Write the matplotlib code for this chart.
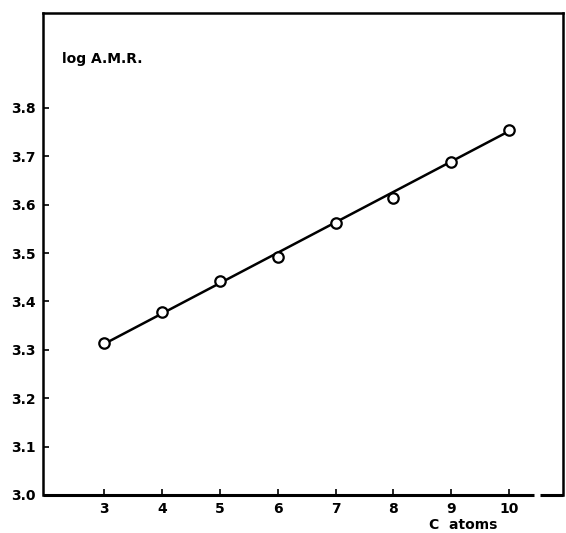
import numpy as np
import matplotlib
matplotlib.use("Agg")
import matplotlib.pyplot as plt

# measured points (C atoms vs log A.M.R.)
c_atoms = [3, 4, 5, 6, 7, 8, 9, 10]
log_amr = [3.314, 3.378, 3.442, 3.492, 3.562, 3.614, 3.688, 3.754]

# drawn straight line, end points
line_x = [3, 10]
line_y = [3.312, 3.752]

x_ticks = [3, 4, 5, 6, 7, 8, 9, 10]
y_ticks = [3.0, 3.1, 3.2, 3.3, 3.4, 3.5, 3.6, 3.7, 3.8]

plt.rcParams['font.family'] = ['DejaVu Sans']

fig = plt.figure(figsize=(5.66, 5.33), dpi=100)
ax = fig.add_axes([0.076, 0.0713, 0.9187, 0.9043])

ax.plot(line_x, line_y, color='black', linewidth=1.8, zorder=2)
ax.plot(c_atoms, log_amr, linestyle='none', marker='o', markersize=7.5,
        markerfacecolor='white', markeredgecolor='black', markeredgewidth=1.6, zorder=3)

ax.set_xlim(1.946, 10.93)
ax.set_ylim(3.0, 3.996)
ax.set_xticks(x_ticks)
ax.set_yticks(y_ticks)
ax.set_xticklabels([str(v) for v in x_ticks], fontweight='bold', fontsize=10)
ax.set_yticklabels(['%.1f' % v for v in y_ticks], fontweight='bold', fontsize=10)
ax.tick_params(direction='in', length=4, width=1.2, pad=5)

for side in ['left', 'top', 'right']:
    ax.spines[side].set_linewidth(1.8)
# bottom axis has a small break near the right end
ax.spines['bottom'].set_visible(False)
ax.plot([0, 0.944], [0, 0], transform=ax.transAxes, color='black',
        linewidth=2.2, clip_on=False, solid_capstyle='butt')
ax.plot([0.956, 1.0], [0, 0], transform=ax.transAxes, color='black',
        linewidth=2.2, clip_on=False, solid_capstyle='butt')

ax.text(0.037, 0.905, 'log A.M.R.', transform=ax.transAxes, fontsize=10,
        fontweight='bold', ha='left', va='center')
ax.text(0.808, -0.063, 'C  atoms', transform=ax.transAxes, fontsize=10,
        fontweight='bold', ha='center', va='center')

fig.savefig('out.png', dpi=100)
